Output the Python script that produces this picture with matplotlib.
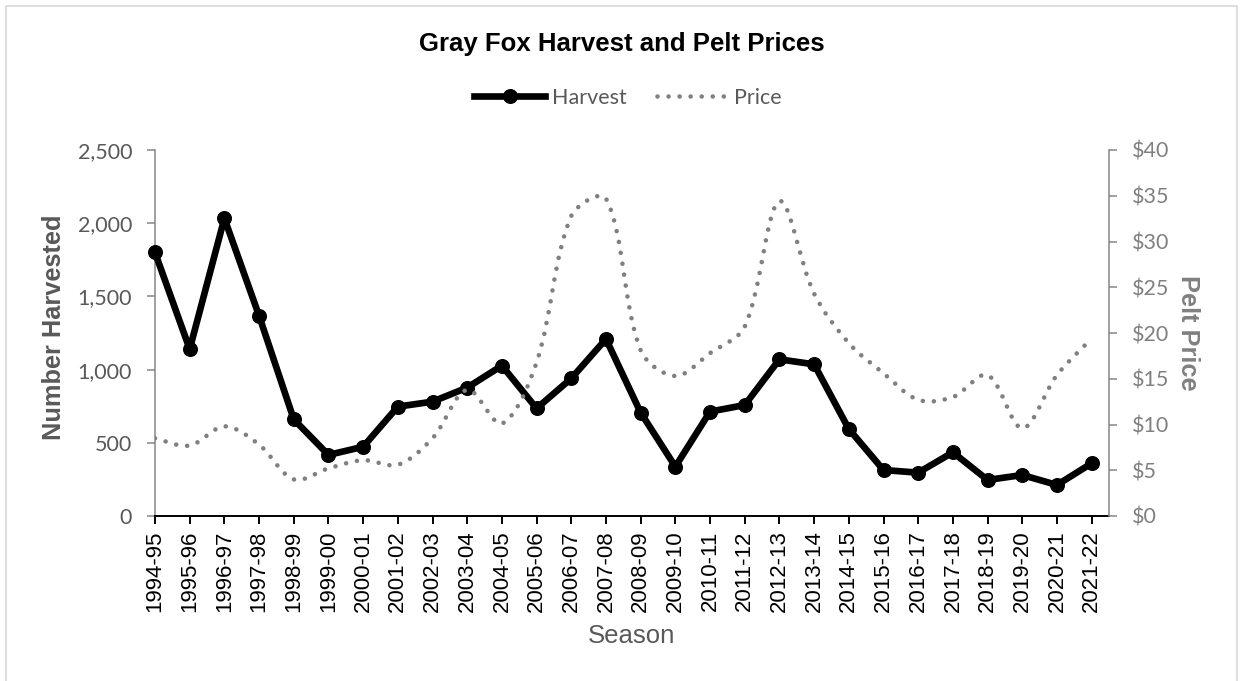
import matplotlib
matplotlib.use('Agg')
import matplotlib.pyplot as plt
from matplotlib.path import Path
from matplotlib.patches import PathPatch, Rectangle
from matplotlib.lines import Line2D
import matplotlib.ticker as plticker
import numpy as np

seasons = ['1994-95', '1995-96', '1996-97', '1997-98', '1998-99', '1999-00',
           '2000-01', '2001-02', '2002-03', '2003-04', '2004-05', '2005-06',
           '2006-07', '2007-08', '2008-09', '2009-10', '2010-11', '2011-12',
           '2012-13', '2013-14', '2014-15', '2015-16', '2016-17', '2017-18',
           '2018-19', '2019-20', '2020-21', '2021-22']
harvest = [1800, 1140, 2033, 1368, 660, 417, 473, 747, 781, 877, 1027, 735,
           940, 1209, 706, 337, 713, 758, 1070, 1036, 594, 314, 296, 435,
           246, 280, 212, 360]
price = [8.5, 7.7, 9.8, 7.8, 4.0, 5.2, 6.1, 5.6, 8.5, 13.8, 10.1, 16.8,
         32.8, 34.7, 18.1, 15.3, 17.8, 20.7, 34.4, 24.3, 18.9, 15.6, 12.7,
         13.0, 15.4, 9.6, 15.4, 19.4]

DARK = '#595959'
GRAY = '#808080'
AXIS = '#868686'
CAL = 'Lato'
ARIAL = 'Liberation Sans'


def smooth_path(a, xv, yv):
    # excel-like smoothed line, tangents weighted by on-screen segment length
    pts = np.column_stack([xv, yv]).astype(float)
    pix = a.transData.transform(pts)
    n = len(pts)
    d = np.hypot(*np.diff(pix, axis=0).T)
    verts = [pts[0]]
    codes = [Path.MOVETO]
    for i in range(n - 1):
        if i > 0:
            t0 = (pts[i + 1] - pts[i - 1]) * d[i] / (d[i - 1] + d[i]) / 3
        else:
            t0 = (pts[i + 1] - pts[i]) / 6
        if i + 2 < n:
            t1 = (pts[i + 2] - pts[i]) * d[i] / (d[i] + d[i + 1]) / 3
        else:
            t1 = (pts[i + 1] - pts[i]) / 6
        verts += [pts[i] + t0, pts[i + 1] - t1, pts[i + 1]]
        codes += [Path.CURVE4] * 3
    return Path(verts, codes)


fig = plt.figure(figsize=(12.43, 6.81), dpi=100)
fig.patches.append(Rectangle((5.5 / 1243, -0.02), (1237 - 5.5) / 1243, 1.02 - 5.5 / 681,
                             transform=fig.transFigure, fill=False,
                             edgecolor='#d9d9d9', lw=1.2))

ax = fig.add_axes([155 / 1243, 1 - 516 / 681, (1109 - 155) / 1243, (516 - 150) / 681])
ax2 = ax.twinx()

x = np.arange(len(seasons))
ax.set_xlim(0, len(seasons) - 0.5)
ax.set_ylim(0, 2500)
ax2.set_ylim(0, 40)

ax.plot(x, harvest, color='black', lw=4.8, marker='o', markersize=9.8,
        solid_joinstyle='round', clip_on=False, zorder=3)

dots = (0, (0.01, 2.4))
ax2.add_patch(PathPatch(smooth_path(ax2, x, price), fill=False, edgecolor=GRAY, lw=3.3,
                        linestyle=dots, capstyle='round', transform=ax2.transData))

ax.set_xticks(x)
ax.set_xticklabels(seasons, rotation=90, fontsize=16, family=ARIAL, color='black')
ax.yaxis.set_major_locator(plticker.MultipleLocator(500))
ax.yaxis.set_major_formatter(plticker.FuncFormatter(lambda v, p: f'{v:,.0f}'))
ax2.yaxis.set_major_locator(plticker.MultipleLocator(5))
ax2.yaxis.set_major_formatter(plticker.FuncFormatter(lambda v, p: f'${v:.0f}'))

for lab in ax.get_yticklabels() + ax2.get_yticklabels():
    lab.set_family(CAL)
    lab.set_fontsize(15.5)

ax.tick_params(axis='x', color='black', length=5.5, width=1.4, pad=5)
ax.tick_params(axis='y', color=AXIS, labelcolor=DARK, length=5.5, width=1.1, pad=11)
ax2.tick_params(axis='y', color=AXIS, labelcolor=GRAY, length=5.5, width=1.1, pad=11)

for a in (ax, ax2):
    a.spines['top'].set_visible(False)
ax.spines['right'].set_visible(False)
ax.spines['left'].set_color(AXIS)
ax.spines['left'].set_linewidth(1.1)
ax.spines['bottom'].set_color('black')
ax.spines['bottom'].set_linewidth(1.4)
ax2.spines['left'].set_visible(False)
ax2.spines['bottom'].set_visible(False)
ax2.spines['right'].set_color(AXIS)
ax2.spines['right'].set_linewidth(1.1)

fig.text(0.5, 1 - 44 / 681, 'Gray Fox Harvest and Pelt Prices', ha='center', va='center',
         fontsize=18.5, weight='bold', family=ARIAL, color='black')
fig.text(54 / 1243, 1 - 327 / 681, 'Number Harvested', ha='center', va='center',
         rotation=90, fontsize=18.3, weight='bold', family=ARIAL, color=DARK)
fig.text(1188 / 1243, 1 - 333 / 681, 'Pelt Price', ha='center', va='center',
         rotation=270, fontsize=18.3, weight='bold', family=ARIAL, color=GRAY)
fig.text(632 / 1243, 1 - 636 / 681, 'Season', ha='center', va='center',
         fontsize=18.5, family=ARIAL, color=DARK)

handles = [Line2D([], [], color='black', lw=4.8, marker='o', markersize=9.8),
           Line2D([], [], color=GRAY, lw=3.3, linestyle=dots, dash_capstyle='round')]
fig.legend(handles, ['Harvest', 'Price'], loc='center', ncol=2, frameon=False,
           bbox_to_anchor=(628 / 1243, 1 - 98 / 681), handlelength=3.3,
           handletextpad=0.3, columnspacing=1.4, labelcolor=DARK,
           prop={'family': CAL, 'size': 15.5})

fig.savefig('out.png', dpi=100)
